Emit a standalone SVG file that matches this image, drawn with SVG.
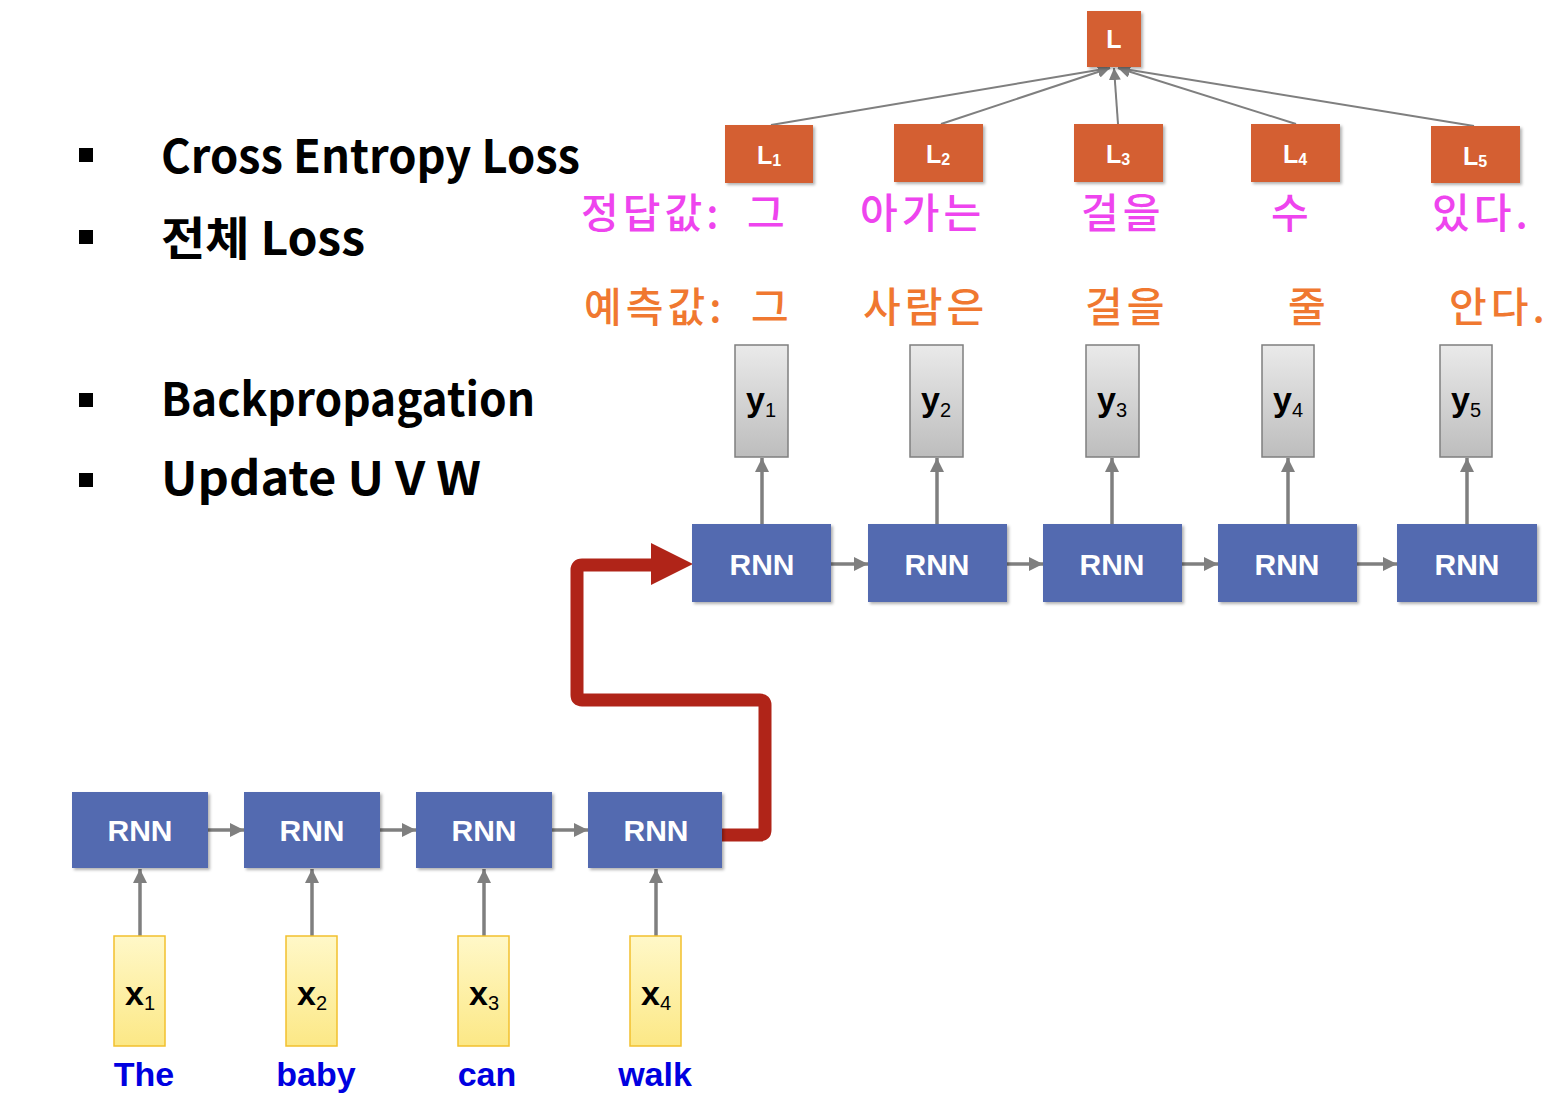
<svg xmlns="http://www.w3.org/2000/svg" width="1558" height="1098" viewBox="0 0 1558 1098">
<style>
.bul{font-family:"Noto Sans CJK KR","Liberation Sans",sans-serif;font-weight:700;font-size:46px;fill:#000}
.kr{font-family:"Noto Sans CJK KR","Noto Sans",sans-serif;font-size:41px;font-weight:500;letter-spacing:4px}
.mag{fill:#EE44EE}
.org{fill:#F07830}
.rnn{fill:#536AB0;filter:url(#sh)}
.rnnt{font-family:"Liberation Sans",Arial,sans-serif;font-weight:700;font-size:30px;fill:#fff;text-anchor:middle}
.lbox{fill:#D45F30;filter:url(#sh)}
.lt{font-family:"Liberation Sans",Arial,sans-serif;font-weight:700;font-size:25px;fill:#fff;text-anchor:middle}
.ybox{fill:url(#gy);stroke:#7F7F7F;stroke-width:1.5}
.xbox{fill:url(#gx);stroke:#F2C02E;stroke-width:1.5}
.var{font-family:"Liberation Sans",Arial,sans-serif;font-weight:700;font-size:34px;fill:#000;text-anchor:middle}
.sub{font-weight:400;font-size:20px}
.word{font-family:"Liberation Sans",Arial,sans-serif;font-weight:700;font-size:34px;fill:#0000E0;text-anchor:middle}
.ar{stroke:#7F7F7F;stroke-width:3.5;fill:none;marker-end:url(#ah)}
.art{stroke:#7F7F7F;stroke-width:2;fill:none;marker-end:url(#ah2)}
</style>
<defs>
<filter id="sh" x="-10%" y="-10%" width="130%" height="130%">
<feDropShadow dx="2" dy="2" stdDeviation="1.5" flood-color="#000" flood-opacity="0.3"/>
</filter>
<linearGradient id="gy" x1="0" y1="0" x2="0" y2="1">
<stop offset="0" stop-color="#EAEAEA"/><stop offset="1" stop-color="#BDBDBD"/>
</linearGradient>
<linearGradient id="gx" x1="0" y1="0" x2="0" y2="1">
<stop offset="0" stop-color="#FFF8C8"/><stop offset="1" stop-color="#FCE886"/>
</linearGradient>
<marker id="ah" viewBox="0 0 10 10" refX="10" refY="5" markerWidth="4" markerHeight="4" markerUnits="strokeWidth" orient="auto">
<path d="M0,0 L10,5 L0,10 Z" fill="#7F7F7F"/>
</marker>
<marker id="ah2" viewBox="0 0 10 10" refX="10" refY="5" markerWidth="6" markerHeight="6" markerUnits="strokeWidth" orient="auto">
<path d="M0,0 L10,5 L0,10 Z" fill="#7F7F7F"/>
</marker>
</defs>

<g id="bullets">
<rect x="79" y="148" width="14" height="14" fill="#000"/>
<rect x="79" y="230" width="14" height="14" fill="#000"/>
<rect x="79" y="393" width="14" height="14" fill="#000"/>
<rect x="79" y="473" width="14" height="14" fill="#000"/>
<text class="bul" x="161" y="173" textLength="419" lengthAdjust="spacingAndGlyphs">Cross Entropy Loss</text>
<text class="bul" x="161" y="255" textLength="204" lengthAdjust="spacingAndGlyphs">전체 Loss</text>
<text class="bul" x="161" y="416" textLength="374" lengthAdjust="spacingAndGlyphs">Backpropagation</text>
<text class="bul" x="161" y="495" textLength="320" lengthAdjust="spacingAndGlyphs">Update U V W</text>
</g>

<g id="connectors">
<line class="art" x1="771" y1="125" x2="1110" y2="68"/>
<line class="art" x1="941" y1="124" x2="1110" y2="68"/>
<line class="art" x1="1118" y1="124" x2="1114" y2="68"/>
<line class="art" x1="1296" y1="124" x2="1118" y2="68"/>
<line class="art" x1="1474" y1="126" x2="1118" y2="68"/>
<line class="ar" x1="762" y1="524" x2="762" y2="458"/>
<line class="ar" x1="937" y1="524" x2="937" y2="458"/>
<line class="ar" x1="1112" y1="524" x2="1112" y2="458"/>
<line class="ar" x1="1288" y1="524" x2="1288" y2="458"/>
<line class="ar" x1="1467" y1="524" x2="1467" y2="458"/>
<line class="ar" x1="831" y1="564" x2="868" y2="564"/>
<line class="ar" x1="1007" y1="564" x2="1043" y2="564"/>
<line class="ar" x1="1182" y1="564" x2="1218" y2="564"/>
<line class="ar" x1="1357" y1="564" x2="1397" y2="564"/>
<line class="ar" x1="208" y1="830" x2="244" y2="830"/>
<line class="ar" x1="380" y1="830" x2="416" y2="830"/>
<line class="ar" x1="552" y1="830" x2="588" y2="830"/>
<line class="ar" x1="140" y1="936" x2="140" y2="869"/>
<line class="ar" x1="312" y1="936" x2="312" y2="869"/>
<line class="ar" x1="484" y1="936" x2="484" y2="869"/>
<line class="ar" x1="656" y1="936" x2="656" y2="869"/>
<path d="M722,835 H760 Q765,835 765,830 V705 Q765,700 760,700 H582 Q577,700 577,695 V570 Q577,565 582,565 H660" fill="none" stroke="#B02418" stroke-width="13" stroke-linejoin="round"/>
<polygon points="651,543 693,564 651,585" fill="#B02418"/>
</g>

<g id="L"><rect class="lbox" x="1087" y="11" width="54" height="56"/><text class="lt" x="1114" y="48">L</text></g>
<g id="L1"><rect class="lbox" x="725" y="125" width="88" height="58"/><text class="lt" x="769" y="164">L<tspan font-size="16" dy="2">1</tspan></text></g>
<g id="L2"><rect class="lbox" x="894" y="124" width="89" height="58"/><text class="lt" x="938" y="163">L<tspan font-size="16" dy="2">2</tspan></text></g>
<g id="L3"><rect class="lbox" x="1074" y="124" width="89" height="58"/><text class="lt" x="1118" y="163">L<tspan font-size="16" dy="2">3</tspan></text></g>
<g id="L4"><rect class="lbox" x="1251" y="124" width="89" height="58"/><text class="lt" x="1295" y="163">L<tspan font-size="16" dy="2">4</tspan></text></g>
<g id="L5"><rect class="lbox" x="1431" y="126" width="89" height="57"/><text class="lt" x="1475" y="165">L<tspan font-size="16" dy="2">5</tspan></text></g>

<g id="answer" class="kr mag">
<text x="581" y="228">정답값:</text>
<text x="747" y="228">그</text>
<text x="860" y="228">아가는</text>
<text x="1081" y="228">걸을</text>
<text x="1271" y="228">수</text>
<text x="1432" y="228">있다.</text>
</g>
<g id="predict" class="kr org">
<text x="584" y="322">예측값:</text>
<text x="751" y="322">그</text>
<text x="863" y="322">사람은</text>
<text x="1085" y="322">걸을</text>
<text x="1288" y="322">줄</text>
<text x="1449" y="322">안다.</text>
</g>

<g id="y1"><rect class="ybox" x="735" y="345" width="53" height="112"/><text class="var" x="761" y="411">y<tspan class="sub" dy="6">1</tspan></text></g>
<g id="y2"><rect class="ybox" x="910" y="345" width="53" height="112"/><text class="var" x="936" y="411">y<tspan class="sub" dy="6">2</tspan></text></g>
<g id="y3"><rect class="ybox" x="1086" y="345" width="53" height="112"/><text class="var" x="1112" y="411">y<tspan class="sub" dy="6">3</tspan></text></g>
<g id="y4"><rect class="ybox" x="1262" y="345" width="52" height="112"/><text class="var" x="1288" y="411">y<tspan class="sub" dy="6">4</tspan></text></g>
<g id="y5"><rect class="ybox" x="1440" y="345" width="52" height="112"/><text class="var" x="1466" y="411">y<tspan class="sub" dy="6">5</tspan></text></g>

<g id="rnnT1"><rect class="rnn" x="692" y="524" width="139" height="78"/><text class="rnnt" x="762" y="575">RNN</text></g>
<g id="rnnT2"><rect class="rnn" x="868" y="524" width="139" height="78"/><text class="rnnt" x="937" y="575">RNN</text></g>
<g id="rnnT3"><rect class="rnn" x="1043" y="524" width="139" height="78"/><text class="rnnt" x="1112" y="575">RNN</text></g>
<g id="rnnT4"><rect class="rnn" x="1218" y="524" width="139" height="78"/><text class="rnnt" x="1287" y="575">RNN</text></g>
<g id="rnnT5"><rect class="rnn" x="1397" y="524" width="140" height="78"/><text class="rnnt" x="1467" y="575">RNN</text></g>

<g id="rnnB1"><rect class="rnn" x="72" y="792" width="136" height="76"/><text class="rnnt" x="140" y="841">RNN</text></g>
<g id="rnnB2"><rect class="rnn" x="244" y="792" width="136" height="76"/><text class="rnnt" x="312" y="841">RNN</text></g>
<g id="rnnB3"><rect class="rnn" x="416" y="792" width="136" height="76"/><text class="rnnt" x="484" y="841">RNN</text></g>
<g id="rnnB4"><rect class="rnn" x="588" y="792" width="134" height="76"/><text class="rnnt" x="656" y="841">RNN</text></g>

<g id="x1"><rect class="xbox" x="114" y="936" width="51" height="110"/><text class="var" x="140" y="1005">x<tspan class="sub" dy="5">1</tspan></text></g>
<g id="x2"><rect class="xbox" x="286" y="936" width="51" height="110"/><text class="var" x="312" y="1005">x<tspan class="sub" dy="5">2</tspan></text></g>
<g id="x3"><rect class="xbox" x="458" y="936" width="51" height="110"/><text class="var" x="484" y="1005">x<tspan class="sub" dy="5">3</tspan></text></g>
<g id="x4"><rect class="xbox" x="630" y="936" width="51" height="110"/><text class="var" x="656" y="1005">x<tspan class="sub" dy="5">4</tspan></text></g>

<g id="words">
<text class="word" x="144" y="1086">The</text>
<text class="word" x="316" y="1086">baby</text>
<text class="word" x="487" y="1086">can</text>
<text class="word" x="655" y="1086">walk</text>
</g>
</svg>
